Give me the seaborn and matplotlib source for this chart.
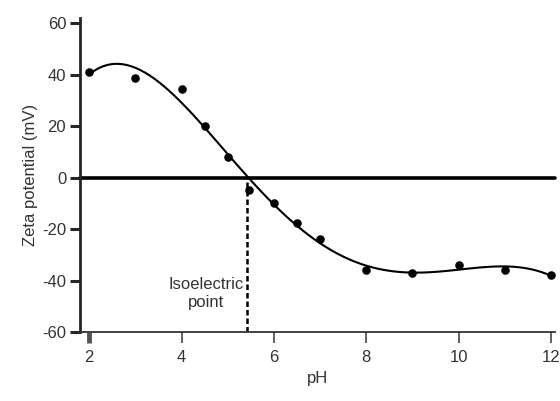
import matplotlib
matplotlib.use("Agg")
import matplotlib.pyplot as plt
import seaborn as sns
import numpy as np
import pandas as pd

ph = [2, 3, 4, 4.5, 5, 5.45, 6, 6.5, 7, 8, 9, 10, 11, 12]
zeta = [41, 38.8, 34.6, 20.2, 8.2, -5, -9.7, -17.5, -23.7, -36, -37, -34, -36, -37.7]
isoelectric_ph = 5.41
yticks = [-60, -40, -20, 0, 20, 40, 60]
xticks = [2, 4, 6, 8, 10, 12]

df = pd.DataFrame({"pH": ph, "zeta": zeta})

sns.set_style("ticks")
plt.rcParams["font.family"] = ["Liberation Sans", "DejaVu Sans"]
plt.rcParams["axes.unicode_minus"] = False

fig = plt.figure(figsize=(5.6, 4.01), dpi=100)
ax = fig.add_axes([0.143, 0.172, 0.848, 0.783])

sns.regplot(data=df, x="pH", y="zeta", order=5, ci=None, ax=ax,
            scatter_kws=dict(s=38, color="black", alpha=1, zorder=3, linewidths=0),
            line_kws=dict(color="black", lw=1.5))

ax.axhline(0, color="black", lw=2.6, zorder=2, clip_on=False)
ax.plot([isoelectric_ph, isoelectric_ph], [-60, 0], color="black", lw=1.8,
        ls=(0, (2.2, 1.2)), zorder=2)
ax.text(isoelectric_ph - 0.06, -45, "Isoelectric\npoint", ha="right", va="center",
        multialignment="center", fontsize=12, color="#333333", linespacing=1.25)

ax.set_xlim(1.8, 12.09)
ax.set_ylim(-60, 62)
ax.set_xticks(xticks)
ax.set_yticks(yticks)
ax.set_xlabel("pH", fontsize=12, color="#333333", labelpad=4)
ax.set_ylabel("Zeta potential (mV)", fontsize=12, color="#333333", labelpad=3)

for s in ["top", "right"]:
    ax.spines[s].set_visible(False)
ax.spines["left"].set_linewidth(2.0)
ax.spines["bottom"].set_linewidth(1.3)
ax.spines["bottom"].set_color("#333333")

ax.tick_params(axis="y", length=7, width=2.2, labelsize=12, labelcolor="#333333", pad=3)
ax.tick_params(axis="x", length=8, width=1.3, color="#555555", labelsize=12,
               labelcolor="#333333", pad=5)
t0 = ax.xaxis.get_major_ticks()[0]
t0.tick1line.set_markeredgewidth(3.5)
t0.tick1line.set_color("black")

fig.savefig("out.png", dpi=100)
